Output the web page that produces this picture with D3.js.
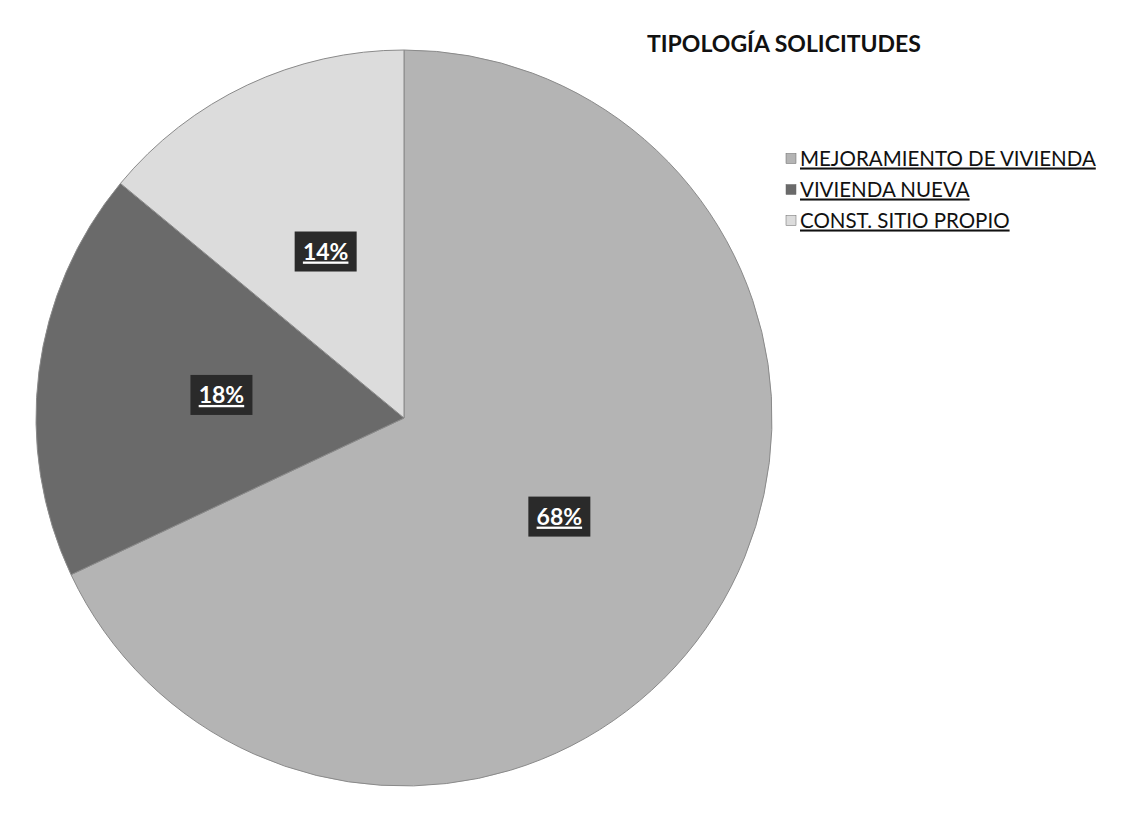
<!DOCTYPE html>
<html>
<head>
<meta charset="utf-8">
<script src="https://cdn.jsdelivr.net/npm/d3@7"></script>
<style>
  body { margin: 0; background: #fff; }
  svg { display: block; font-family: Lato, "Open Sans", sans-serif; }
</style>
</head>
<body>
<svg id="chart" width="1135" height="817"></svg>
<script>
const categories = ["MEJORAMIENTO DE VIVIENDA", "VIVIENDA NUEVA", "CONST. SITIO PROPIO"];
const values = [68, 18, 14];
const colors = ["#b4b4b4", "#6a6a6a", "#dcdcdc"];
const title = "TIPOLOGÍA SOLICITUDES";

const width = 1135;
const height = 817;
const cx = 404, cy = 418, radius = 368;

const svg = d3.select("#chart");

const pie = d3.pie().sort(null).value(d => d.value);
const arcs = pie(categories.map((c, i) => ({ name: c, value: values[i], color: colors[i] })));

const arc = d3.arc().innerRadius(0).outerRadius(radius);
const labelArc = d3.arc().innerRadius(radius * 0.5).outerRadius(radius * 0.5);

const g = svg.append("g").attr("transform", `translate(${cx},${cy})`);

g.selectAll("path")
    .data(arcs)
    .join("path")
    .attr("d", arc)
    .attr("fill", d => d.data.color)
    .attr("stroke", "#8a8a8a")
    .attr("stroke-width", 1);

// percentage labels on dark boxes
const lab = g.selectAll("g.lab")
    .data(arcs)
    .join("g")
    .attr("class", "lab")
    .attr("transform", d => `translate(${labelArc.centroid(d)})`);

lab.append("rect")
    .attr("x", -31)
    .attr("y", -20)
    .attr("width", 62)
    .attr("height", 40)
    .attr("fill", "#2a2a2a");

lab.append("text")
    .attr("text-anchor", "middle")
    .attr("y", 8)
    .attr("fill", "#fff")
    .attr("font-size", 23)
    .attr("font-weight", "bold")
    .attr("text-decoration", "underline")
    .text(d => d.data.value + "%");

// title
svg.append("text")
    .attr("x", 647)
    .attr("y", 52)
    .attr("font-size", 23)
    .attr("font-weight", "bold")
    .attr("fill", "#111")
    .text(title);

// legend
const legendY = d3.scaleBand().domain(categories).range([143, 236]);

const leg = svg.append("g")
    .selectAll("g")
    .data(arcs)
    .join("g")
    .attr("transform", d => `translate(786,${legendY(d.data.name) + legendY.bandwidth() / 2})`);

leg.append("rect")
    .attr("x", 0)
    .attr("y", -5)
    .attr("width", 10)
    .attr("height", 10)
    .attr("fill", d => d.data.color)
    .attr("stroke", "#666")
    .attr("stroke-width", 0.5);

leg.append("text")
    .attr("x", 14)
    .attr("y", 7)
    .attr("font-size", 20.5)
    .attr("fill", "#111")
    .attr("text-decoration", "underline")
    .text(d => d.data.name);
</script>
</body>
</html>
